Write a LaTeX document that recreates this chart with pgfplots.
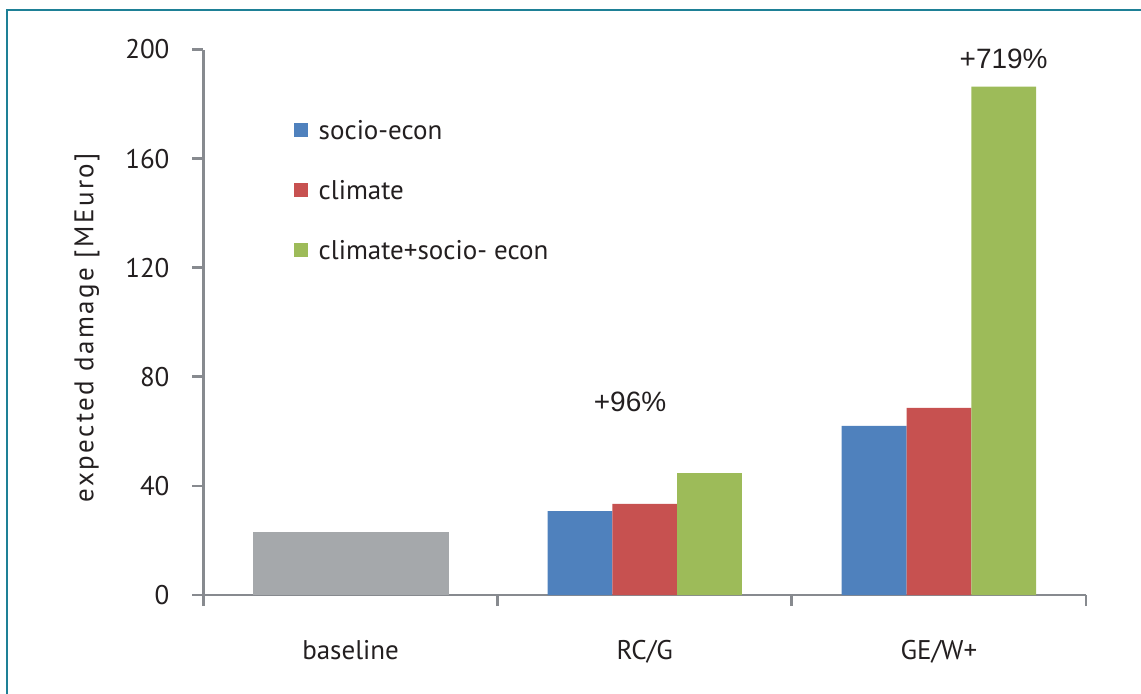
\documentclass[border=0pt]{standalone}
\usepackage{pgfplots}
\pgfplotsset{compat=1.18}
\usepackage{fontspec}
\setmainfont{PT Sans}
\newfontfamily\arialfont{Liberation Sans}
\newfontfamily\spacedfont[LetterSpace=9]{PT Sans}
\definecolor{axgray}{RGB}{135,138,143}
\definecolor{cblue}{RGB}{79,129,189}
\definecolor{cred}{RGB}{199,81,80}
\definecolor{cgreen}{RGB}{157,187,89}
\definecolor{cgray}{RGB}{165,168,171}
\definecolor{framecol}{RGB}{30,128,150}
\definecolor{txt}{RGB}{35,31,32}
\begin{document}
\begin{tikzpicture}
\useasboundingbox (0,0) rectangle (570.5pt,346.5pt);
\draw[framecol, line width=1pt] (3.5pt,-2pt) -- (3.5pt,341.5pt) -- (573pt,341.5pt);
\begin{axis}[
  at={(101.75pt,49pt)}, anchor=south west,
  scale only axis, width=441.25pt, height=272.75pt,
  xmin=-0.5, xmax=2.5, ymin=0, ymax=200,
  axis x line=bottom, axis y line=left,
  axis line style={-, draw=axgray, line width=1.4pt},
  ytick={0,40,80,120,160,200},
  tick align=outside,
  major tick length=5.5pt,
  tick style={draw=axgray, line width=1.4pt},
  xtick={-0.5,0.5,1.5,2.5}, xticklabels={},
  extra x ticks={0,1,2},
  extra x tick labels={baseline,RC/G,GE/W+},
  extra x tick style={major tick length=0pt, xticklabel style={yshift=-19pt}},
  /pgf/number format/assume math mode=true,
  ticklabel style={font=\fontsize{13.5}{16}\selectfont, text=txt},
  yticklabel style={xshift=-8pt},
  ylabel={expected damage [MEuro]},
  every axis y label/.style={at={(axis description cs:-0.132,0.49)}, rotate=90, anchor=center, font=\spacedfont\fontsize{13.5}{16}\selectfont, text=txt},
  legend style={at={(rel axis cs:0.095,0.885)}, anchor=north west, draw=none, fill=none,
     font=\fontsize{13.5}{16}\selectfont, text=txt, row sep=15pt},
  legend cell align=left,
  legend image code/.code={\fill[#1] (0pt,-2.5pt) rectangle (7pt,4.5pt); \path (10.5pt,0pt);},
  clip=false,
]
\addplot[ybar, fill=cgray, draw=none, bar width=98pt, bar shift=0pt, forget plot] coordinates {(0,23.1)};
\addplot[ybar, fill=cblue, draw=none, bar width=32.4pt, bar shift=-32.4pt] coordinates {(1,30.8) (2,62.0)};
\addplot[ybar, fill=cred, draw=none, bar width=32.4pt, bar shift=0pt] coordinates {(1,33.4) (2,68.6)};
\addplot[ybar, fill=cgreen, draw=none, bar width=32.4pt, bar shift=32.4pt] coordinates {(1,44.7) (2,186.4)};
\legend{socio-econ, climate, climate+socio- econ}
\node[font=\arialfont\fontsize{14}{16}\selectfont, text=txt] at (axis cs:0.95,70.8) {+96\%};
\node[font=\arialfont\fontsize{14}{16}\selectfont, text=txt] at (axis cs:2.22,196.5) {+719\%};
\end{axis}
\end{tikzpicture}
\end{document}
